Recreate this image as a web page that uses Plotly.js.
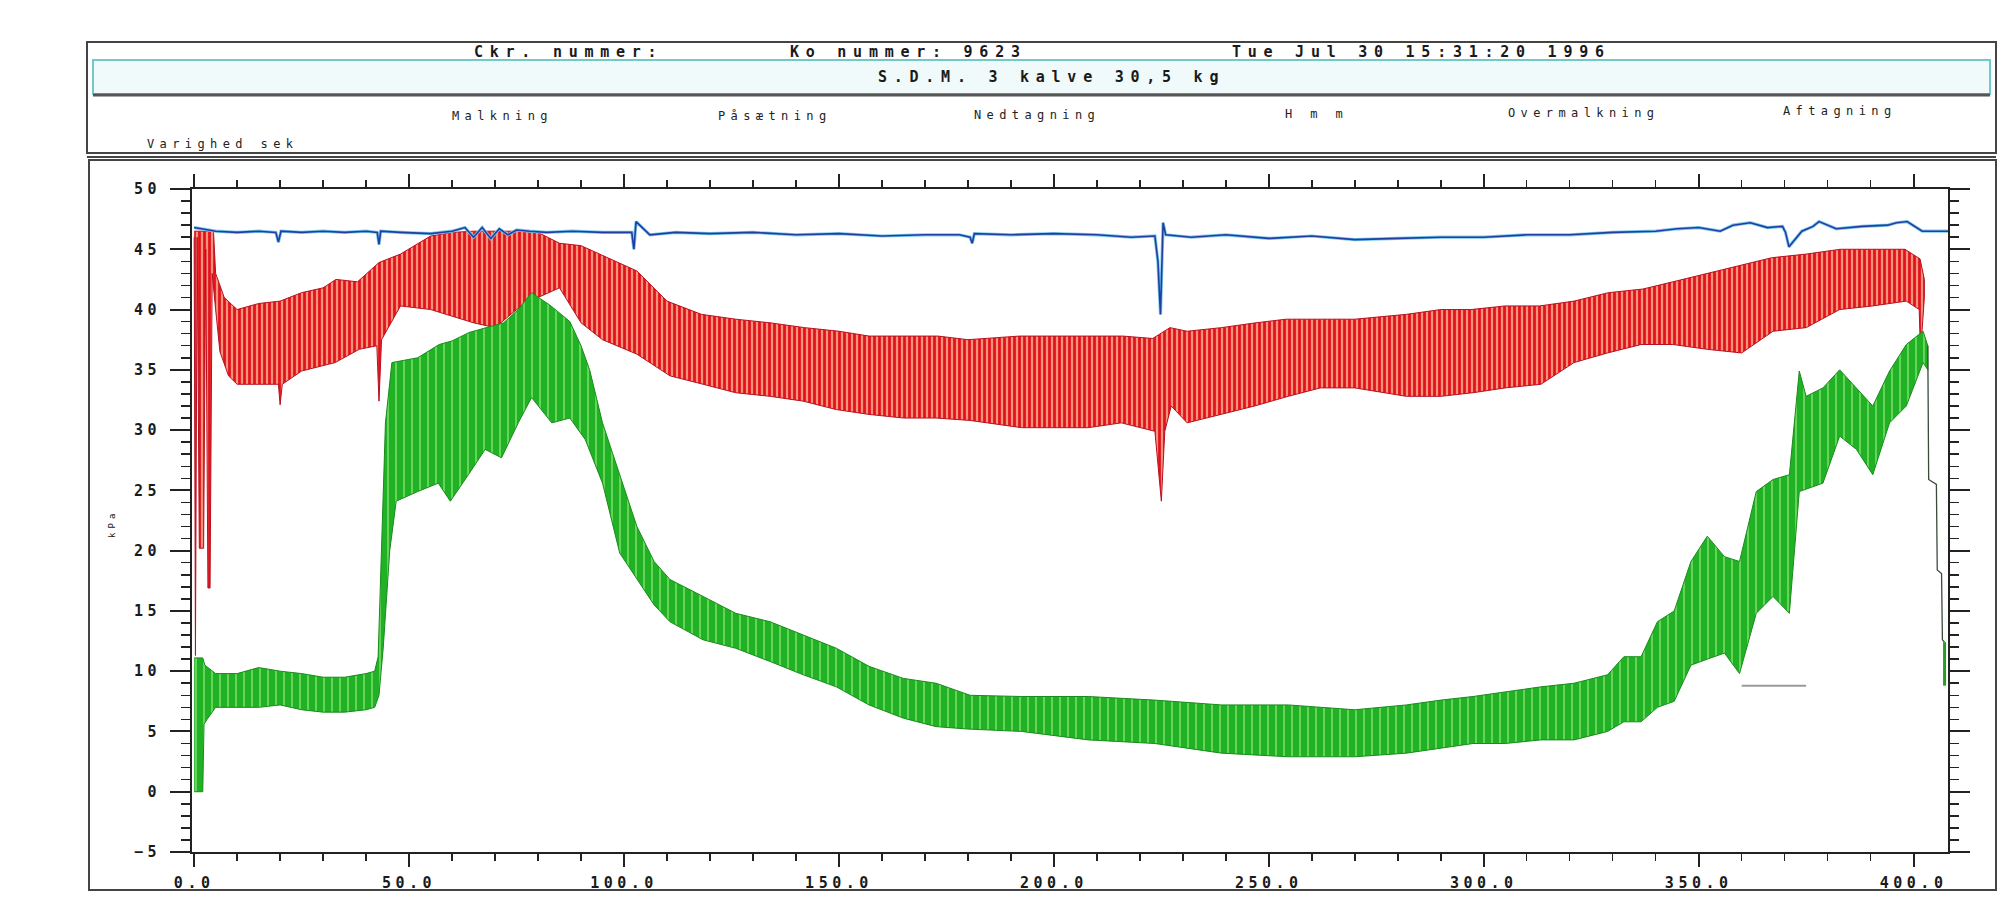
<!DOCTYPE html>
<html><head><meta charset="utf-8">
<script src="https://cdn.plot.ly/plotly-3.0.1.min.js"></script>
<style>
html,body{margin:0;padding:0;background:#fff;}
#chart{width:2003px;height:910px;}
.xtick text,.ytick text{letter-spacing:0.3em;}
.annotation-text{letter-spacing:0.45em;}
</style></head><body><div id="chart"></div>
<script>
// ---- data (seconds, kPa) ----
const redUpperX = [0,4.5,5,7,10,15,20,25,30,33,38,43,48,55,60,65,70,75,80,85,90,95,103,110,118,126,134,142,150,157,165,173,180,192,200,208,216,223,227,231,239,247,254,262,270,282,290,297,305,313,321,329,337,344,352,360,367,375,383,390,398,401.5,402.5];
const redUpper  = [46.5,46.5,43,41,40,40.5,40.7,41.4,41.8,42.5,42.3,43.9,44.6,46.1,46.4,46.5,46.5,46.5,46.4,45.5,45.3,44.5,43.2,40.7,39.6,39.2,38.9,38.5,38.2,37.8,37.8,37.8,37.5,37.8,37.8,37.8,37.8,37.6,38.5,38.2,38.5,38.9,39.2,39.2,39.2,39.6,40,40,40.3,40.3,40.7,41.4,41.7,42.3,43,43.7,44.3,44.6,45,45,45,44.2,42.5];
const redLowerX = [0,0.3,0.7,1.2,2.2,2.7,3.2,3.7,4.2,5,6,8,10,13.5,19.6,20,20.5,25,32.8,38.4,42.5,43,43.6,48,55,65,70,75,80,85,90,95,103,110.7,118.4,126,134,141.7,149.4,157,165,172.6,180.5,192.5,200,208,215.7,223.5,225,225.8,227.3,231,239,246.7,254.5,262,270,282,290,297.5,305,313.3,321,328.8,336.6,344,352,360,367.3,375,382.8,390.5,398.3,401.3,401.6,402.5];
const redLower  = [46,11.3,46,20.2,20.2,45,16.9,16.9,43,40,36.5,34.5,33.8,33.8,33.8,32.1,33.8,34.9,35.6,36.7,37,32.4,37.5,40.3,40,38.9,38.5,40,41,41.8,38.9,37.5,36.3,34.5,33.8,33.1,32.8,32.4,31.7,31.3,31,31,30.8,30.2,30.2,30.2,30.6,29.9,24.1,29.9,32,30.6,31.3,32,32.8,33.5,33.5,32.8,32.8,33.1,33.5,33.8,35.6,36.4,37.1,37.1,36.7,36.4,38.2,38.5,40,40.3,40.7,40,36.4,41];

const greenUpperX = [0,2,2.5,5,10,15,20,25,30,35,40,42,42.8,43.5,44.5,46,52,57,60,64,68,72,75.4,78.5,83,87.4,90,92,95,99,103,107,110.7,118.4,126,134,141.7,149.4,157,165,172.6,180.5,192.5,208,223.5,239,254.5,270,282,290,297.5,305,313.3,321,328.8,332.6,336.6,340.4,344.3,348.2,352,356,359.5,363.4,367.3,371.1,373.4,375,378.9,382.8,386.7,390.5,394.4,398.3,402.2,403.3];
const greenUpper  = [11.1,11.1,10.5,9.8,9.8,10.3,10,9.8,9.5,9.5,9.8,10,11.2,20,30.6,35.6,36,37.1,37.4,38.1,38.5,38.9,40,41.4,40.3,39,37,35,30.6,26.3,22,19.1,17.6,16.2,14.8,14.1,13,11.9,10.4,9.4,9,8,7.9,7.9,7.6,7.2,7.2,6.8,7.2,7.6,7.9,8.3,8.7,9,9.7,11.2,11.2,14.1,15,19.1,21.2,19.5,19.1,24.9,25.9,26.3,34.9,32.8,33.5,35,33.5,32,34.9,37.1,38.2,37];
const greenLowerX = [0,2,2.3,3,5,10,15,20,25,30,35,40,42,43,44,45.5,47,52,56.8,59.6,63.8,67.7,71.5,75.4,78.5,83.2,87.4,91,95,99,103,107,110.7,118.4,126,134,141.7,149.4,157,165,172.6,180,192.5,208,223.5,239,254.5,270,282,290,297.5,305,313.3,321,328.8,332.6,336.6,340.4,344.3,348.2,352,356,359.5,363.4,367.3,371.1,373.4,378.9,382.8,386.7,390.5,394.4,398.3,402.2,403.3];
const greenLower  = [0,0,5.6,6,7,7,7,7.2,6.8,6.6,6.6,6.8,7,8,12,20,24.1,24.9,25.6,24.1,26.3,28.4,27.7,30.6,32.7,30.6,31,29.2,25.6,19.8,17.6,15.5,14.1,12.6,11.9,10.8,9.7,8.7,7.2,6.1,5.4,5.2,5,4.3,4,3.2,2.9,2.9,3.2,3.6,4,4,4.3,4.3,5,5.8,5.8,7,7.5,10.5,11,11.5,9.8,14.8,16.2,14.8,24.9,25.6,29.5,28.4,26.3,30.6,32,35.6,35];

const tailX = [403.3,403.5,405.3,405.5,406.5,406.7,407.2];
const tailY = [37,25.9,25.5,18.4,18.1,12.6,12.4];
const tailEndX = [407.2,407.2];
const tailEndY = [12.4,8.8];
const stubX = [360,375];
const stubY = [8.8,8.8];

const blueX = [0,5,10,15,19,19.6,20.2,25,30,35,40,42.6,43,43.4,48,55,60,63,65,67,69,71,73,75,78,82,88,95,100,101.8,102.3,102.8,106,112,120,130,140,150,160,170,178,180.5,181,181.5,190,200,210,218,223.5,224.2,224.8,225.4,226,232,240,250,260,270,280,290,300,310,320,330,340,345,350,355,358,362,366,369.5,370.2,371,374,376.6,378,382,388,394,396,398.5,402,408];
const blueY = [46.8,46.5,46.4,46.5,46.4,45.6,46.5,46.4,46.5,46.4,46.5,46.4,45.4,46.5,46.4,46.3,46.5,46.8,46.0,46.8,45.9,46.7,46.2,46.6,46.5,46.4,46.5,46.4,46.4,46.4,45.0,47.3,46.2,46.4,46.3,46.4,46.2,46.3,46.1,46.2,46.2,46.0,45.5,46.3,46.2,46.3,46.2,46.0,46.1,44.0,39.6,47.2,46.2,46.0,46.2,45.9,46.1,45.8,45.9,46.0,46.0,46.2,46.2,46.4,46.5,46.7,46.8,46.5,47.0,47.2,46.8,46.9,46.4,45.2,46.5,46.9,47.3,46.7,46.9,47.0,47.2,47.3,46.5,46.5,46.8];

const xTickVals = [0,50,100,150,200,250,300,350,400];
const xTickText = ['0.0','50.0','100.0','150.0','200.0','250.0','300.0','350.0','400.0'];
const yTickVals = [-5,0,5,10,15,20,25,30,35,40,45,50];

const headerRow = ['Ckr. nummer:','Ko nummer: 9623','Tue Jul 30 15:31:20 1996'];
const subTitle = 'S.D.M. 3 kalve 30,5 kg';
const phaseLabels = ['Malkning','Påsætning','Nedtagning','H m m','Overmalkning','Aftagning'];
const durationLabel = 'Varighed sek';
const yUnit = 'kPa';

// ---- geometry helpers ----
const L=192,R=55,T=189,B=58,FW=2003,FH=910;
const W=FW-L-R,H=FH-T-B;
const px=x=>(x-L)/W, py=y=>(FH-B-y)/H;
function band(ux,uy,lx,ly){return {x:ux.concat(lx.slice().reverse()),y:uy.concat(ly.slice().reverse())};}

const redBand=band(redUpperX,redUpper,redLowerX,redLower);
const greenBand=band(greenUpperX,greenUpper,greenLowerX,greenLower);

const traces=[
 {type:'scatter',mode:'lines',x:redBand.x,y:redBand.y,fill:'toself',
  fillcolor:'#f0806a',fillpattern:{shape:'|',bgcolor:'#f4927a',fgcolor:'#e2121c',size:5,solidity:0.55},
  line:{color:'#b8101f',width:1},hoverinfo:'skip',showlegend:false},
 {type:'scatter',mode:'lines',x:greenBand.x,y:greenBand.y,fill:'toself',
  fillcolor:'#22b422',fillpattern:{shape:'|',bgcolor:'#20b224',fgcolor:'#9eed86',size:8,solidity:0.14},
  line:{color:'#178c1a',width:1},hoverinfo:'skip',showlegend:false},
 {type:'scatter',mode:'lines',x:tailX,y:tailY,line:{color:'#3c4a3c',width:1.3},showlegend:false,hoverinfo:'skip'},
 {type:'scatter',mode:'lines',x:tailEndX,y:tailEndY,line:{color:'#22a022',width:3},showlegend:false,hoverinfo:'skip'},
 {type:'scatter',mode:'lines',x:stubX,y:stubY,line:{color:'#9a9a9a',width:2},showlegend:false,hoverinfo:'skip'},
 {type:'scatter',mode:'lines',x:blueX,y:blueY,line:{color:'#7cc8ea',width:3.2},showlegend:false,hoverinfo:'skip'},
 {type:'scatter',mode:'lines',x:blueX,y:blueY,line:{color:'#1f3fa2',width:1.6},showlegend:false,hoverinfo:'skip'}
];

const tickFont={family:'DejaVu Sans Mono',size:15,color:'#1a1a1a',weight:'bold'};
const ann=[];
const hdrX=[568,908,1421];
headerRow.forEach((t,i)=>ann.push({text:t,x:px(hdrX[i]),y:py(52),xref:'paper',yref:'paper',showarrow:false,xanchor:'center',yanchor:'middle',font:{family:'DejaVu Sans Mono',size:15,color:'#1a1a1a',weight:'bold'}}));
ann.push({text:subTitle,x:px(1051),y:py(77),xref:'paper',yref:'paper',showarrow:false,xanchor:'center',yanchor:'middle',font:{family:'DejaVu Sans Mono',size:15,color:'#1a1a1a',weight:'bold'}});
const phX=[502,775,1037,1316,1584,1840], phY=[116,116,115,114,113,111];
phaseLabels.forEach((t,i)=>ann.push({text:t,x:px(phX[i]),y:py(phY[i]),xref:'paper',yref:'paper',showarrow:false,xanchor:'center',yanchor:'middle',font:{family:'DejaVu Sans Mono',size:12,color:'#222'}}));
ann.push({text:durationLabel,x:px(223),y:py(144),xref:'paper',yref:'paper',showarrow:false,xanchor:'center',yanchor:'middle',font:{family:'DejaVu Sans Mono',size:12,color:'#222'}});
ann.push({text:yUnit,x:px(112),y:py(524),xref:'paper',yref:'paper',showarrow:false,textangle:-90,xanchor:'center',yanchor:'middle',font:{family:'DejaVu Sans Mono',size:9,color:'#222'}});

const shapes=[
 {type:'rect',xref:'paper',yref:'paper',x0:px(87),x1:px(1996),y0:py(42),y1:py(153),line:{color:'#444',width:2},layer:'below'},
 {type:'rect',xref:'paper',yref:'paper',x0:px(93),x1:px(1990),y0:py(60),y1:py(94),line:{color:'#70caca',width:2},fillcolor:'#f0fafa',layer:'below'},
 {type:'line',xref:'paper',yref:'paper',x0:px(93),x1:px(1990),y0:py(95),y1:py(95),line:{color:'#555',width:3}},
 {type:'line',xref:'paper',yref:'paper',x0:px(87),x1:px(1996),y0:py(157),y1:py(157),line:{color:'#444',width:2}},
 {type:'rect',xref:'paper',yref:'paper',x0:px(89),x1:px(1996),y0:py(160),y1:py(890),line:{color:'#444',width:2},layer:'below'}
];

const layout={
 width:FW,height:FH,margin:{l:L,r:R,t:T,b:B},
 paper_bgcolor:'#ffffff',plot_bgcolor:'#ffffff',showlegend:false,
 xaxis:{range:[-0.5,408],tickmode:'array',tickvals:xTickVals,ticktext:xTickText,ticks:'outside',ticklen:13,tickwidth:2,tickcolor:'#222',
   showline:true,linecolor:'#222',linewidth:2,mirror:'ticks',showgrid:false,zeroline:false,tickfont:tickFont,ticklabelstandoff:3,
   minor:{tick0:0,dtick:10,ticks:'outside',ticklen:7,tickwidth:1.5,tickcolor:'#222',showgrid:false}},
 yaxis:{range:[-5,50],tickmode:'array',tickvals:yTickVals,ticks:'outside',ticklen:20,tickwidth:2,tickcolor:'#222',
   showline:true,linecolor:'#222',linewidth:2,mirror:'ticks',showgrid:false,zeroline:false,tickfont:tickFont,ticklabelstandoff:6,
   minor:{tick0:0,dtick:1,ticks:'outside',ticklen:9,tickwidth:1.5,tickcolor:'#222',showgrid:false}},
 annotations:ann,shapes:shapes
};
Plotly.newPlot('chart',traces,layout,{displayModeBar:false,staticPlot:true});
</script></body></html>
